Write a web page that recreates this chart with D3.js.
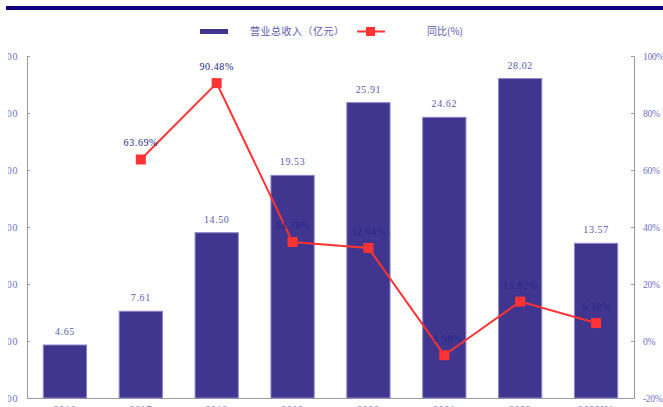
<!DOCTYPE html>
<html lang="zh">
<head>
    <meta charset="UTF-8">
    <title>营业总收入</title>
    <script src="https://d3js.org/d3.v7.min.js"></script>
    <style>
        body { margin: 0; background: #fff; }
        svg { display: block; }
        .num { font-family: "Liberation Serif", "DejaVu Serif", serif; font-size: 10px; letter-spacing: 0.6px; }
        .axis-label { fill: #7070c4; }
        .bar { fill: #41368f; stroke: #8d86c8; stroke-width: 1px; }
        .yoy-line { fill: none; stroke: #ff3333; stroke-width: 2px; }
    </style>
</head>
<body>
    <div id="chart"></div>
    <script>
        const years = ["2016", "2017", "2018", "2019", "2020", "2021", "2022", "2023H1"];
        const revenue = [4.65, 7.61, 14.50, 19.53, 25.91, 24.62, 28.02, 13.57];
        const yoy = [null, 63.69, 90.48, 34.76, 32.64, -4.98, 13.82, 6.30];
        const leftTicks = [0, 5, 10, 15, 20, 25, 30];
        const rightTicks = [-20, 0, 20, 40, 60, 80, 100];

        const width = 663, height = 407;
        const plot = { left: 27, right: 634, top: 56, bottom: 398 };

        const svg = d3.select("#chart").append("svg")
            .attr("width", width)
            .attr("height", height);

        // top rule
        svg.append("rect").attr("x", 6).attr("y", 6).attr("width", width - 6).attr("height", 4).attr("fill", "#0c0080");

        const x = d3.scaleBand().domain(years).range([plot.left, plot.right]).paddingInner(0.43).paddingOuter(0.215);
        const yL = d3.scaleLinear().domain([0, 30]).range([plot.bottom, plot.top]);
        const yR = d3.scaleLinear().domain([-20, 100]).range([plot.bottom, plot.top]);
        const cx = d => x(d) + x.bandwidth() / 2;

        // left axis: the picture is cropped, only the decimals of the labels show
        svg.append("defs").append("clipPath").attr("id", "leftclip")
            .append("rect").attr("x", -19).attr("y", 0).attr("width", 40).attr("height", height);
        const axL = svg.append("g").attr("transform", `translate(${plot.left},0)`)
            .attr("clip-path", "url(#leftclip)")
            .call(d3.axisRight(yL).tickValues(leftTicks).tickSize(3).tickFormat(d => d3.format(".2f")(d)));
        axL.select(".domain").attr("stroke", "#999");
        axL.selectAll(".tick line").attr("stroke", "#999");
        axL.selectAll(".tick text").attr("class", "num axis-label").attr("x", -9).attr("text-anchor", "end").attr("dy", "0.35em");

        const axR = svg.append("g").attr("transform", `translate(${plot.right},0)`)
            .call(d3.axisLeft(yR).tickValues(rightTicks).tickSize(3).tickFormat(d => d + "%"));
        axR.select(".domain").attr("stroke", "#999");
        axR.selectAll(".tick line").attr("stroke", "#999");
        axR.selectAll(".tick text").attr("class", "num axis-label").attr("x", 9).attr("text-anchor", "start").attr("dy", "0.35em")
            .style("letter-spacing", "-0.3px").style("font-size", "9.5px");

        const axX = svg.append("g").attr("transform", `translate(0,${plot.bottom})`)
            .call(d3.axisBottom(x).tickSize(0).tickPadding(8));
        axX.select(".domain").attr("stroke", "#999");
        axX.selectAll(".tick text").attr("class", "num axis-label").attr("dy", "0.71em");

        // bars
        svg.selectAll(".bar").data(years).join("rect")
            .attr("class", "bar")
            .attr("x", d => x(d))
            .attr("width", x.bandwidth())
            .attr("y", (d, i) => yL(revenue[i]))
            .attr("height", (d, i) => yL(0) - yL(revenue[i]));

        svg.selectAll(".bar-label").data(years).join("text")
            .attr("class", "num bar-label")
            .attr("x", d => cx(d))
            .attr("y", (d, i) => yL(revenue[i]) - 10)
            .attr("text-anchor", "middle")
            .attr("fill", "#5a5ab0")
            .text((d, i) => d3.format(".2f")(revenue[i]));

        // yoy line
        const pts = years.map((d, i) => ({ x: cx(d), v: yoy[i] })).filter(p => p.v !== null);
        svg.append("path").datum(pts).attr("class", "yoy-line")
            .attr("d", d3.line().x(p => p.x).y(p => yR(p.v)));
        svg.selectAll(".marker").data(pts).join("rect")
            .attr("x", p => p.x - 5).attr("y", p => yR(p.v) - 5)
            .attr("width", 10).attr("height", 10)
            .attr("fill", "#ff3333");
        svg.selectAll(".yoy-label").data(pts).join("text")
            .attr("class", "num")
            .attr("x", p => p.x)
            .attr("y", p => yR(p.v) - 13)
            .attr("text-anchor", "middle")
            .attr("fill", "#24248a")
            .text(p => d3.format(".2f")(p.v) + "%");

        // legend
        const lg = svg.append("g");
        lg.append("rect").attr("x", 200).attr("y", 29).attr("width", 28).attr("height", 5).attr("fill", "#41368f");
        lg.append("text").attr("x", 250).attr("y", 35)
            .attr("font-family", "Noto Sans CJK SC").attr("font-size", 10).attr("fill", "#5a5ab0")
            .attr("letter-spacing", "0.5px")
            .text("营业总收入（亿元）");
        lg.append("line").attr("x1", 357).attr("x2", 385).attr("y1", 31.5).attr("y2", 31.5)
            .attr("stroke", "#ff3333").attr("stroke-width", 2);
        lg.append("rect").attr("x", 366).attr("y", 27).attr("width", 9).attr("height", 9).attr("fill", "#ff3333");
        lg.append("text").attr("x", 427).attr("y", 35)
            .attr("font-family", "Noto Sans CJK SC").attr("font-size", 10).attr("fill", "#5a5ab0")
            .text("同比(%)");
    </script>
</body>
</html>
